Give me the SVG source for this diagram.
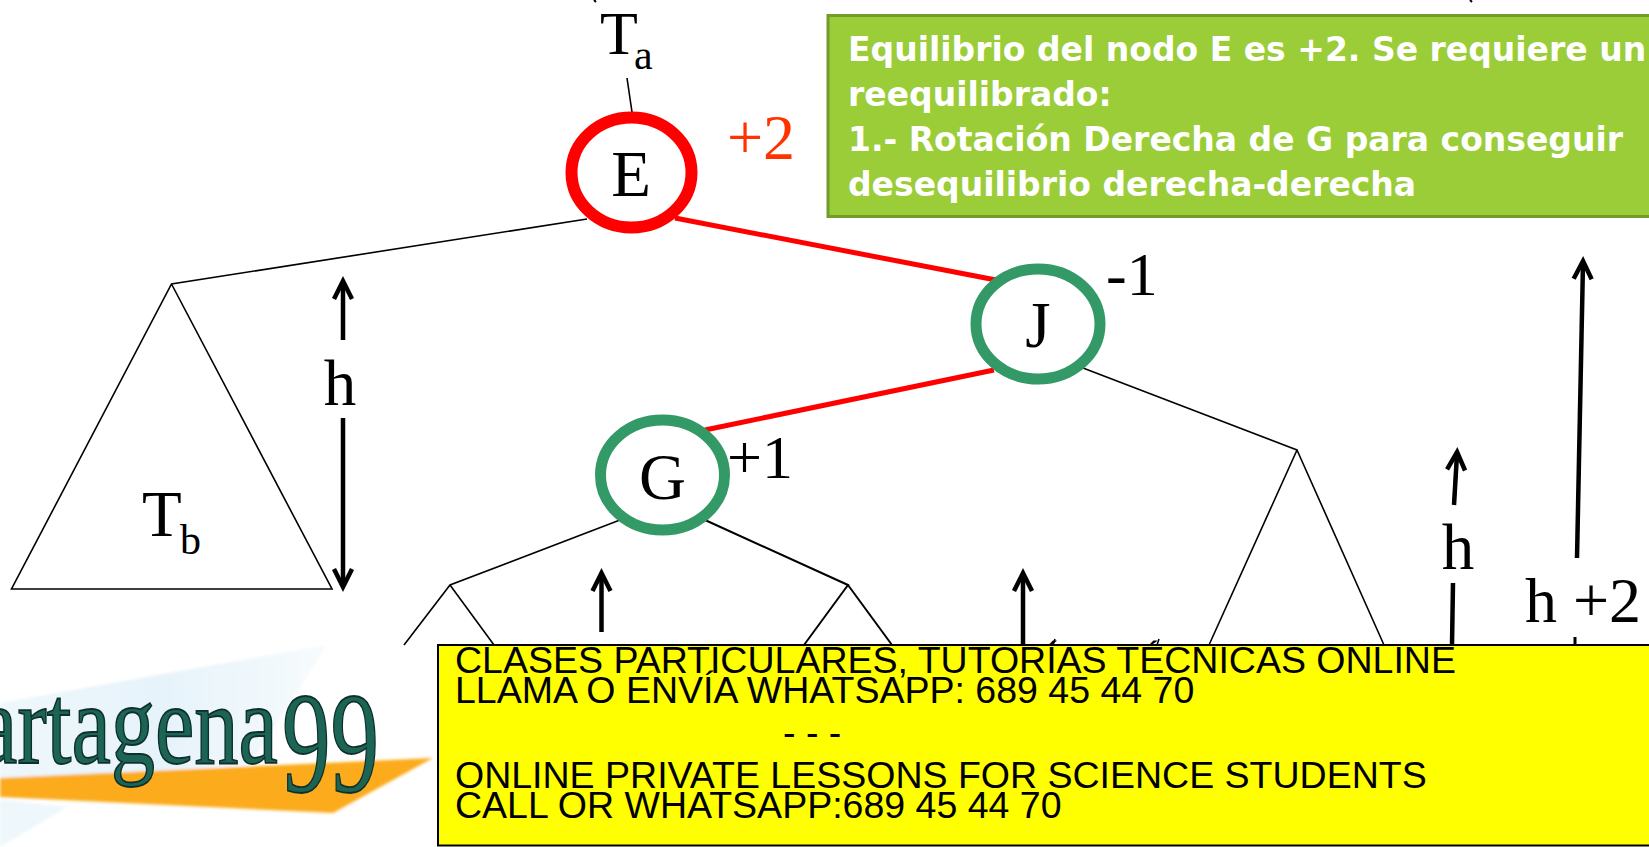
<svg xmlns="http://www.w3.org/2000/svg" width="1649" height="847" viewBox="0 0 1649 847">
<style>
text{font-family:"Liberation Serif","Times New Roman",serif;fill:#000}
.big{font-size:65px}
.sub{font-size:42px}
.mid{font-size:64px}
.thin{stroke:#000;stroke-width:1.6;fill:none}
.red{stroke:#f00;stroke-width:5;fill:none}
.arr{stroke:#000;stroke-width:4.5;fill:none}
.g{stroke:#339966;stroke-width:11;fill:#fff}
.w{font-family:"DejaVu Sans",Verdana,sans-serif;font-weight:700;font-size:33px;fill:#fff}
.y{font-family:"Liberation Sans",Arial,sans-serif;font-size:37.500px;fill:#000}
.logo{fill:#1c6555;stroke:#0f2f2c;stroke-width:1.800}
</style>
<defs>
<marker id="ah" markerUnits="userSpaceOnUse" markerWidth="34" markerHeight="34" refX="26" refY="17" orient="auto-start-reverse" viewBox="0 0 34 34"><path d="M10 8 L28 17 L10 26" fill="none" stroke="#000" stroke-width="4.500"/></marker>
<filter id="soft"><feGaussianBlur stdDeviation="1.500"/></filter>
<linearGradient id="sky" x1="1" y1="0" x2="0" y2="0"><stop offset="0" stop-color="#f7fbfd"/><stop offset=".5" stop-color="#e6f3fa"/><stop offset="1" stop-color="#eef7fb"/></linearGradient>
</defs>
<rect width="1649" height="847" fill="#fff"/>
<g id="connectors">
<path class="thin" d="M627 78L632 112"/>
<path class="thin" d="M587 219L171.500 284L11.500 589H332L171.500 284"/>
<path class="red" d="M675 218L996 280"/>
<path class="red" d="M994 370L705 430"/>
<path class="thin" d="M1083 368L1297 450L1209 645M1297 450L1384 645"/>
<path class="thin" d="M620 520L450 585L404 645M450 585L494 645"/>
<path class="thin" d="M705 520L848 585L804 645M848 585L892 645" style="stroke-width:2"/>
<path class="thin" d="M1053 645L1055 639M1157 645L1159 639"/>
<path class="arr" marker-start="url(#ah)" d="M343 283V340"/>
<path class="arr" marker-end="url(#ah)" d="M343 418V585"/>
<path class="arr" marker-start="url(#ah)" d="M601.500 575V632"/>
<path class="arr" marker-start="url(#ah)" d="M1023 575V645"/>
<path class="arr" marker-start="url(#ah)" d="M1457 454L1454 505"/>
<path class="arr" d="M1453 583L1452 645"/>
<path class="arr" marker-start="url(#ah)" d="M1583 263L1577 558"/>
<path class="arr" style="stroke-width:3" d="M1575 637V645"/>
<path class="thin" d="M594 0L596 2M1470 0L1472 2" style="stroke-width:2"/>
</g>
<g id="node-E">
<ellipse cx="631.500" cy="172.500" rx="60" ry="55" fill="#fff" stroke="#f00" stroke-width="12"/>
<text class="big" x="631" y="196" text-anchor="middle">E</text>
</g>
<g id="node-J">
<ellipse cx="1038" cy="324" rx="62" ry="55" class="g"/>
<text class="big" x="1038" y="347" text-anchor="middle">J</text>
</g>
<g id="node-G">
<ellipse cx="662.500" cy="475" rx="62" ry="55" class="g"/>
<text class="big" x="662.500" y="499" text-anchor="middle">G</text>
</g>
<g id="labels">
<text class="big" x="600" y="54" style="font-size:62px">T</text><text class="sub" x="634" y="69">a</text>
<text class="mid" x="727" y="159" style="fill:#ff3300">+2</text>
<text class="mid" x="1106" y="295" style="font-size:62px">-1</text>
<text class="mid" x="727" y="478" style="font-size:62px">+1</text>
<text class="big" x="340" y="405" text-anchor="middle">h</text>
<text class="big" x="142" y="536">T</text><text class="sub" x="180" y="554">b</text>
<text class="big" x="1458" y="569" text-anchor="middle">h</text>
<text class="mid" x="1525" y="622">h +2</text>
</g>
<g id="note">
<rect x="828" y="15.500" width="823" height="201" fill="#9acd38" stroke="#729b2a" stroke-width="3"/>
<text class="w" x="848" y="61">Equilibrio del nodo E es +2. Se requiere un</text>
<text class="w" x="848" y="106">reequilibrado:</text>
<text class="w" x="848" y="151">1.- Rotación Derecha de G para conseguir</text>
<text class="w" x="848" y="196">desequilibrio derecha-derecha</text>
</g>
<g id="logo">
<g filter="url(#soft)">
<path d="M327 645L0 703V780L250 765Z" fill="url(#sky)"/>
<path d="M0 847L67 807L0 800Z" fill="#eef7fb"/>
<path d="M0 778L433 758L333 813L0 797Z" fill="#fbab1a"/>
</g>
<text class="logo" transform="translate(-22 763) scale(.77 1)" style="font-size:115px">artagena</text>
<text class="logo" transform="translate(282 792) scale(.68 1)" style="font-size:143px">99</text>
</g>
<g id="banner">
<rect x="438" y="645" width="1213" height="200.500" fill="#ff0" stroke="#000" stroke-width="2"/>
<text class="y" x="455" y="673">CLASES PARTICULARES, TUTORÍAS TÉCNICAS ONLINE</text>
<text class="y" x="455" y="703">LLAMA O ENVÍA WHATSAPP: 689 45 44 70</text>
<text class="y" x="783" y="745">- - -</text>
<text class="y" x="455" y="788">ONLINE PRIVATE LESSONS FOR SCIENCE STUDENTS</text>
<text class="y" x="455" y="818">CALL OR WHATSAPP:689 45 44 70</text>
</g>
</svg>
